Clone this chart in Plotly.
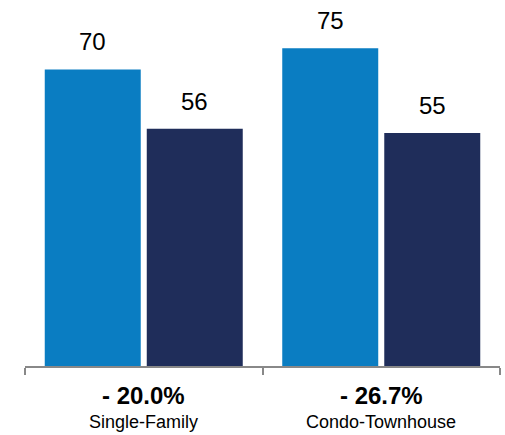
import plotly.graph_objects as go

categories = ["Single-Family", "Condo-Townhouse"]
change_labels = ["- 20.0%", "- 26.7%"]
series_a = [70, 75]
series_b = [56, 55]

col_a = "#0A7DC2"
col_b = "#1F2D5A"
font_fam = "Liberation Sans, Arial, sans-serif"

fig = go.Figure()
fig.add_trace(go.Bar(x=categories, y=series_a, marker=dict(color=col_a, line=dict(width=0)), name="A"))
fig.add_trace(go.Bar(x=categories, y=series_b, marker=dict(color=col_b, line=dict(width=0)), name="B"))

for vals, shift in ((series_a, -51), (series_b, 51)):
    for c, v in zip(categories, vals):
        fig.add_annotation(x=c, y=v, xref="x", yref="y", text=str(v), showarrow=False,
                           xshift=shift, yshift=12, yanchor="bottom",
                           font=dict(size=24, color="#000", family=font_fam))

for c, p in zip(categories, change_labels):
    fig.add_annotation(x=c, y=0, xref="x", yref="paper", text=f"<b>{p}</b>", showarrow=False,
                       yshift=-29, yanchor="middle", font=dict(size=24, color="#000", family=font_fam))
    fig.add_annotation(x=c, y=0, xref="x", yref="paper", text=c, showarrow=False,
                       yshift=-56, yanchor="middle", font=dict(size=18, color="#000", family=font_fam))

fig.update_layout(
    width=505, height=435,
    margin=dict(l=25, r=5, t=27, b=69),
    paper_bgcolor="white", plot_bgcolor="white",
    barmode="group", bargap=0.141, bargroupgap=0.059,
    showlegend=False,
    font=dict(family=font_fam, color="#000"),
    xaxis=dict(tickson="boundaries", ticks="outside", ticklen=7, tickwidth=2, tickcolor="#888",
               showline=True, linecolor="#888", linewidth=2, showticklabels=False,
               showgrid=False, automargin=False),
    yaxis=dict(range=[0, 80], visible=False, showgrid=False, zeroline=False, automargin=False),
)

fig.write_html("out.html", config={"displayModeBar": False},
               post_script="document.body.style.margin='0';")
